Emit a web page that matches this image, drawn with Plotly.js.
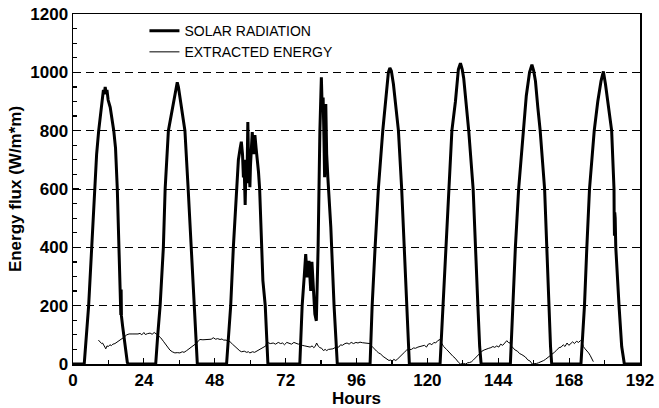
<!DOCTYPE html>
<html>
<head>
<meta charset="utf-8">
<script src="https://cdn.plot.ly/plotly-3.0.1.min.js"></script>
<style>html,body{margin:0;padding:0;background:#fff}#chart{width:659px;height:408px}</style>
</head>
<body>
<div id="chart"></div>
<script>
const solarHours = [0,3.8,5.3,6.4,7.3,8.0,8.7,9.6,10.3,10.6,10.9,11.2,11.5,11.9,12.6,13.8,14.4,15.0,15.6,16.0,16.1,16.2,16.3,16.4,16.8,17.6,18.4,18.7,
28.0,28.7,29.5,30.6,31.2,32.3,33.3,34.3,35.0,35.3,35.7,36.5,37.9,39.0,40.0,41.0,41.8,42.1,
52.0,52.6,53.4,54.3,55.4,56.0,56.6,57.0,57.4,57.7,57.9,58.1,58.3,58.5,58.7,58.9,59.1,59.2,59.4,59.6,59.9,60.1,60.4,60.7,61.0,61.2,61.4,61.6,62.0,62.5,62.8,63.2,63.6,64.0,64.3,65.1,65.6,66.0,
76.8,77.2,77.6,78.3,78.8,79.3,79.9,80.5,80.9,81.4,81.9,82.4,83.0,83.6,84.1,84.4,84.7,85.0,85.2,85.6,85.9,86.3,86.8,87.3,88.4,89.0,89.5,
100.6,101.3,102.3,103.4,104.9,106.0,106.8,107.3,107.8,108.5,109.3,110.2,111.3,112.2,113.0,113.5,113.9,
124.3,125.2,126.3,127.3,128.3,129.5,130.5,131.2,131.8,132.3,133.2,134.0,135.5,136.2,137.1,137.7,138.2,
148.1,148.9,149.8,150.9,152.4,153.5,154.6,155.4,156.0,156.6,157.4,158.2,159.7,160.4,161.2,161.7,162.1,
172.0,172.6,173.2,174.0,174.9,176.5,177.7,178.8,179.6,180.3,181.1,182.4,183.0,183.2,183.25,183.35,183.45,183.6,183.8,184.9,185.8,186.7,192];
const solarValues = [0,0,200,400,600,720,800,880,940,925,950,930,940,905,880,800,740,600,400,230,262,168,255,165,130,60,5,0,
0,100,200,400,600,800,860,920,955,966,950,900,800,600,400,200,50,0,
0,100,200,400,600,700,740,762,720,640,700,600,545,640,700,620,780,830,720,660,606,680,740,795,740,720,760,785,740,700,660,600,500,400,286,200,80,0,
0,100,200,300,377,297,354,251,350,260,171,148,401,800,983,870,914,760,640,891,720,640,560,469,200,80,0,
0,200,400,600,800,920,1000,1015,1005,960,880,800,600,400,200,60,0,
0,200,400,600,800,900,1010,1031,1010,980,880,800,600,400,200,60,0,
0,200,400,600,800,920,1000,1026,1005,970,880,800,600,400,200,60,0,
0,100,200,400,600,800,900,970,1003,960,900,800,650,600,515,440,520,500,400,200,60,0,0];

const extHours = [8.6,9.2,9.7,10.0,10.3,10.8,11.1,11.5,12.0,12.5,13.0,13.5,14.2,14.8,15.4,15.9,16.6,17.3,18.2,19.0,20.0,21.0,22.0,22.7,23.3,24.0,24.5,25.2,26.1,26.8,27.5,28.2,28.9,29.7,30.6,31.5,32.2,32.8,33.6,34.5,35.3,36.2,37.0,37.6,38.5,39.6,40.5,41.2,41.9,42.5,43.0,44.0,45.0,46.0,46.8,47.5,48.3,49.0,49.8,50.5,50.9,51.8,52.5,53.2,54.0,54.9,55.8,56.5,57.1,58.0,58.8,59.4,59.9,60.8,61.5,62.2,62.8,63.6,64.5,65.3,65.6,66.1,66.8,67.8,68.6,69.5,70.3,71.0,71.6,72.4,73.2,74.0,74.8,75.6,76.3,76.9,77.6,78.5,79.4,80.3,81.0,81.5,82.0,82.5,83.0,83.6,84.2,84.8,85.4,85.9,86.5,87.3,88.0,88.7,89.3,90.0,90.6,91.2,92.1,92.8,93.5,94.2,95.0,95.8,96.5,97.2,98.0,99.0,99.8,100.6,101.3,102.1,102.8,103.5,104.2,105.0,105.7,106.3,107.0,107.6,108.0,108.6,109.3,110.0,110.7,111.4,112.2,113.0,113.8,114.6,115.3,116.0,116.8,117.5,118.3,119.0,119.7,120.3,120.9,121.5,122.2,122.8,123.5,124.3,124.9,125.5,126.5,127.2,128.0,128.7,129.4,130.1,130.6,131.2,132.2,133.0,133.6,134.3,135.0,135.6,136.3,137.0,137.8,138.5,139.2,140.1,140.8,141.5,142.2,142.8,143.5,144.2,144.8,145.5,146.2,146.9,147.4,148.0,148.6,149.2,149.7,150.5,151.2,152.0,152.5,153.2,154.0,154.8,155.5,156.2,157.0,157.6,158.1,158.7,159.4,160.0,160.8,161.5,162.3,163.0,163.8,164.6,165.3,166.0,166.6,167.3,167.9,168.5,169.2,169.8,170.5,171.2,171.8,172.3,172.8,173.4,174.0,174.6,175.1,175.7,176.2];
const extValues = [82,76,70,72,64,58,52,62,60,66,63,68,70,74,77,82,86,92,100,103,103,102,103,105,100,108,101,104,106,102,108,103,98,90,78,66,56,48,42,38,39,38,42,40,46,54,62,68,72,80,84,83,84,86,85,90,85,87,84,86,82,82,80,76,68,60,50,45,42,44,40,42,38,42,40,44,48,50,55,62,75,72,70,72,68,74,70,72,66,74,72,68,74,70,68,70,64,62,60,58,62,56,60,72,62,56,54,46,50,46,50,50,52,56,56,58,66,64,70,72,68,74,70,74,72,75,73,72,73,70,60,50,44,38,34,26,20,18,12,14,8,16,12,18,24,30,40,48,48,50,55,54,58,60,62,64,58,68,70,66,74,72,80,84,70,60,50,42,32,26,20,10,5,0,2,0,4,5,8,14,22,28,36,44,48,50,54,56,60,57,62,58,68,64,72,80,74,72,60,52,48,44,36,32,28,24,14,10,0,0,2,4,6,8,12,16,22,26,32,40,48,56,58,66,60,72,64,70,76,70,78,74,80,78,60,52,46,38,30,20,8];

const xTicks = [0,24,48,72,96,120,144,168,192];
const yTicks = [0,200,400,600,800,1000,1200];
const seriesNames = ['SOLAR RADIATION','EXTRACTED ENERGY'];

const boldFont = {family:'Liberation Sans, Arial, sans-serif', size:17, color:'#000', weight:'bold'};

const traces = [
  {x: solarHours, y: solarValues, type:'scatter', mode:'lines', name: seriesNames[0],
   line:{color:'#000', width:3}},
  {x: extHours, y: extValues, type:'scatter', mode:'lines', name: seriesNames[1],
   line:{color:'#000', width:1}}
];

const layout = {
  width:659, height:408,
  margin:{l:73, r:19, t:14, b:44},
  paper_bgcolor:'#fff', plot_bgcolor:'#fff',
  showlegend:true,
  legend:{x:0.126, y:0.997, xanchor:'left', yanchor:'top', bgcolor:'rgba(0,0,0,0)',
    font:{family:'Liberation Sans, Arial, sans-serif', size:14, color:'#000'}, tracegroupgap:0},
  xaxis:{range:[0,192], tickvals:xTicks, ticktext:xTicks.map(String), ticks:'inside', ticklen:6, tickwidth:1.2, tickcolor:'#000',
    minor:{dtick:12, tick0:0, ticks:'inside', ticklen:4, tickcolor:'#000'},
    showgrid:false, zeroline:false, showline:true, linecolor:'#000', linewidth:1.5, mirror:true,
    tickfont:boldFont, title:{text:'Hours', font:boldFont, standoff:2}},
  yaxis:{range:[0,1200], tickvals:yTicks, ticktext:yTicks.map(String), ticks:'inside', ticklen:6, tickwidth:1.2, tickcolor:'#000',
    minor:{dtick:50, tick0:0, ticks:'inside', ticklen:4, tickcolor:'#000'},
    showgrid:true, gridcolor:'#000', gridwidth:1, griddash:'8px,5px',
    zeroline:false, showline:true, linecolor:'#000', linewidth:1.5, mirror:true,
    tickfont:boldFont, title:{text:'Energy flux (W/m*m)', font:boldFont, standoff:4}}
};

Plotly.newPlot('chart', traces, layout, {displayModeBar:false, staticPlot:true});
</script>
</body>
</html>
